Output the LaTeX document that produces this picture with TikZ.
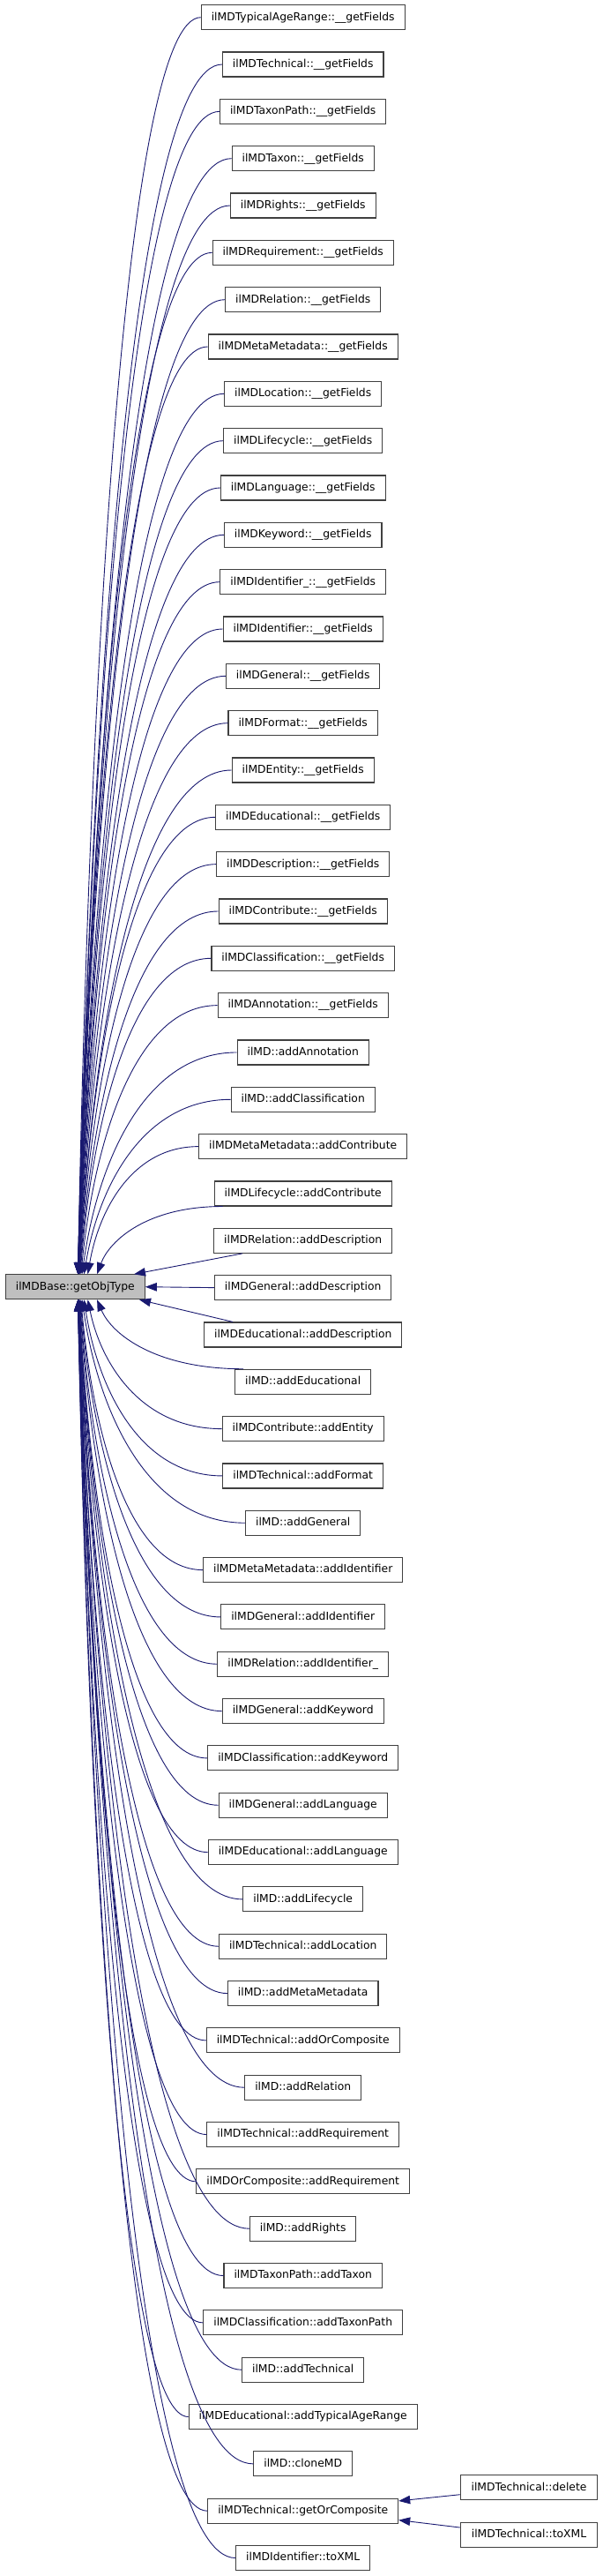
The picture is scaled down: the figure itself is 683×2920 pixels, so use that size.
\documentclass[tikz,border=0pt]{standalone}
\usepackage{fontspec}
\setmainfont{DejaVu Sans}
\usetikzlibrary{arrows.meta,calc}
\definecolor{edgecol}{HTML}{191970}
\definecolor{boxcol}{HTML}{404040}
\definecolor{rootfill}{HTML}{BFBFBF}
\begin{document}
\begin{tikzpicture}[x=1pt,y=-1pt,
  box/.style={draw=boxcol,line width=1.1pt,fill=white,minimum height=28pt,
    inner xsep=11.5pt,inner ysep=0pt,text height=9.3pt,text depth=2.6pt,
    font=\fontsize{12.34}{14}\selectfont},
  edge/.style={draw=edgecol,line width=0.9pt,-{Triangle[length=13pt,width=9.5pt]}}]
\useasboundingbox (0,0) rectangle (683,2920);
\node[box,fill=rootfill] (root) at (85.3,1458.7) {ilMDBase::getObjType};
\foreach \t [count=\i] in {
 ilMDTypicalAgeRange::\_\_getFields,
 ilMDTechnical::\_\_getFields,
 ilMDTaxonPath::\_\_getFields,
 ilMDTaxon::\_\_getFields,
 ilMDRights::\_\_getFields,
 ilMDRequirement::\_\_getFields,
 ilMDRelation::\_\_getFields,
 ilMDMetaMetadata::\_\_getFields,
 ilMDLocation::\_\_getFields,
 ilMDLifecycle::\_\_getFields,
 ilMDLanguage::\_\_getFields,
 ilMDKeyword::\_\_getFields,
 ilMDIdentifier\_::\_\_getFields,
 ilMDIdentifier::\_\_getFields,
 ilMDGeneral::\_\_getFields,
 ilMDFormat::\_\_getFields,
 ilMDEntity::\_\_getFields,
 ilMDEducational::\_\_getFields,
 ilMDDescription::\_\_getFields,
 ilMDContribute::\_\_getFields,
 ilMDClassification::\_\_getFields,
 ilMDAnnotation::\_\_getFields,
 ilMD::addAnnotation,
 ilMD::addClassification,
 ilMDMetaMetadata::addContribute,
 ilMDLifecycle::addContribute,
 ilMDRelation::addDescription,
 ilMDGeneral::addDescription,
 ilMDEducational::addDescription,
 ilMD::addEducational,
 ilMDContribute::addEntity,
 ilMDTechnical::addFormat,
 ilMD::addGeneral,
 ilMDMetaMetadata::addIdentifier,
 ilMDGeneral::addIdentifier,
 ilMDRelation::addIdentifier\_,
 ilMDGeneral::addKeyword,
 ilMDClassification::addKeyword,
 ilMDGeneral::addLanguage,
 ilMDEducational::addLanguage,
 ilMD::addLifecycle,
 ilMDTechnical::addLocation,
 ilMD::addMetaMetadata,
 ilMDTechnical::addOrComposite,
 ilMD::addRelation,
 ilMDTechnical::addRequirement,
 ilMDOrComposite::addRequirement,
 ilMD::addRights,
 ilMDTaxonPath::addTaxon,
 ilMDClassification::addTaxonPath,
 ilMD::addTechnical,
 ilMDEducational::addTypicalAgeRange,
 ilMD::cloneMD,
 ilMDTechnical::getOrComposite,
 ilMDIdentifier::toXML}
{
  \pgfmathsetmacro\yy{19.7+(\i-1)*53.33}
  \node[box] (n\i) at (343.7,\yy) {\t};
}
\node[box,minimum width=155.4pt] (del) at (600,2819.7) {ilMDTechnical::delete};
\node[box,minimum width=155.4pt] (txml) at (600,2873.3) {ilMDTechnical::toXML};
% edges into root
\draw[edge] (n28.west) -- (root.east);
\foreach \i in {1,...,27} {
  \pgfmathtruncatemacro\d{28-\i}
  \pgfmathsetmacro\tx{88+67/(\d^1.6)}
  \ifnum\d=1
    \draw[edge] ($(n\i.south west)+(33,0)$) -- (152,1444.3);
  \else
    \ifnum\d=2
      \coordinate (tl) at ($(n\i.south west)+(10,0)$);
    \else
      \coordinate (tl) at (n\i.west);
    \fi
    \draw[edge] let \p0=(tl), \p3=(root.north) in
      (\p0) .. controls ({\x0-0.6*(\x0-\tx)},\y0) and ({\tx+0.1*(\x0-\tx)},{\y0+0.5*(\y3-\y0)}) .. (\tx pt,\y3);
  \fi
}
\foreach \i in {29,...,55} {
  \pgfmathtruncatemacro\d{\i-28}
  \pgfmathsetmacro\tx{88+67/(\d^1.6)}
  \ifnum\d=1
    \draw[edge] ($(n\i.north west)+(33,0)$) -- (158,1473.3);
  \else
    \ifnum\d=2
      \coordinate (tl) at ($(n\i.north west)+(10,0)$);
    \else
      \coordinate (tl) at (n\i.west);
    \fi
    \draw[edge] let \p0=(tl), \p3=(root.south) in
      (\p0) .. controls ({\x0-0.6*(\x0-\tx)},\y0) and ({\tx+0.1*(\x0-\tx)},{\y0+0.5*(\y3-\y0)}) .. (\tx pt,\y3);
  \fi
}
\draw[edge] ($(del.west)+(0,8)$) -- ($(n54.east)+(0,-11.3)$);
\draw[edge] ($(txml.west)+(0,-8.3)$) -- ($(n54.east)+(0,10.4)$);
\end{tikzpicture}
\end{document}
